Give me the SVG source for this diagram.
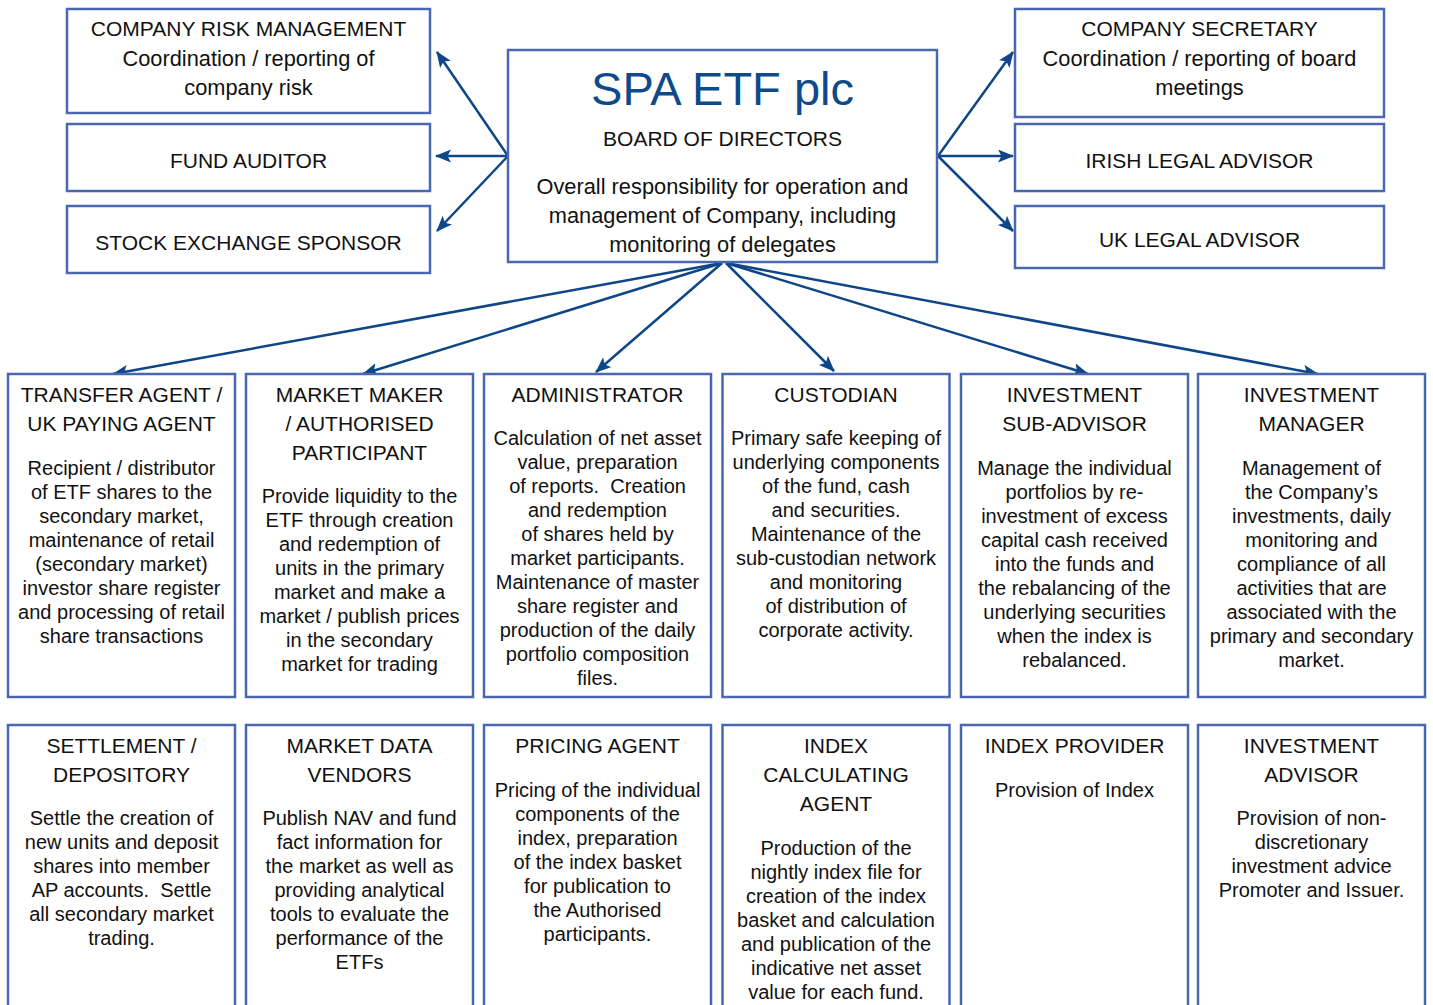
<svg xmlns="http://www.w3.org/2000/svg" width="1433" height="1005" viewBox="0 0 1433 1005">
<defs>
<style>
.box{fill:#fff;stroke:#4a68af;stroke-width:2.5}
text{font-family:"Liberation Sans",Arial,Helvetica,sans-serif;fill:#111;text-anchor:middle}
.h{font-size:21px}
.d{font-size:21.8px}
.b{font-size:20px}
.t{font-size:47px;fill:#0d4a8a}
.pre{white-space:pre}
.c{stroke:#0e4687;stroke-width:2.5;fill:none;marker-end:url(#ah)}
</style>
<marker id="ah" markerUnits="userSpaceOnUse" markerWidth="18" markerHeight="14" refX="15" refY="6.5" orient="auto">
<path d="M0,0 L16,6.5 L0,13 L3.5,6.5 z" fill="#0e4687"/>
</marker>
</defs>
<rect width="1433" height="1005" fill="#fff"/>

<g id="connectors">
<line class="c" x1="508" y1="156" x2="437" y2="52"/>
<line class="c" x1="508" y1="156" x2="436" y2="156"/>
<line class="c" x1="508" y1="156" x2="437" y2="231"/>
<line class="c" x1="938" y1="156" x2="1013" y2="52"/>
<line class="c" x1="938" y1="156" x2="1013" y2="156"/>
<line class="c" x1="938" y1="156" x2="1013" y2="231"/>
<line class="c" x1="722" y1="263" x2="113" y2="374"/>
<line class="c" x1="722" y1="263" x2="363" y2="374"/>
<line class="c" x1="722" y1="263" x2="596" y2="372"/>
<line class="c" x1="726" y1="263" x2="834" y2="371"/>
<line class="c" x1="726" y1="263" x2="1088" y2="374"/>
<line class="c" x1="726" y1="263" x2="1318" y2="374"/>
</g>

<g id="board">
<rect class="box" x="508" y="50" width="429" height="212"/>
<text class="t" x="722.5" y="105">SPA ETF plc</text>
<text class="h" x="722.5" y="146">BOARD OF DIRECTORS</text>
<text class="d" x="722.5" y="194">Overall responsibility for operation and</text>
<text class="d" x="722.5" y="223">management of Company, including</text>
<text class="d" x="722.5" y="252">monitoring of delegates</text>
</g>

<g id="risk">
<rect class="box" x="67" y="9" width="363" height="104"/>
<text class="h" x="248.5" y="36">COMPANY RISK MANAGEMENT</text>
<text class="d" x="248.5" y="66">Coordination / reporting of</text>
<text class="d" x="248.5" y="95">company risk</text>
</g>
<g id="auditor">
<rect class="box" x="67" y="124" width="363" height="67"/>
<text class="h" x="248.5" y="168">FUND AUDITOR</text>
</g>
<g id="sponsor">
<rect class="box" x="67" y="206" width="363" height="67"/>
<text class="h" x="248.5" y="250">STOCK EXCHANGE SPONSOR</text>
</g>

<g id="secretary">
<rect class="box" x="1015" y="9" width="369" height="108"/>
<text class="h" x="1199.5" y="36">COMPANY SECRETARY</text>
<text class="d" x="1199.5" y="66">Coordination / reporting of board</text>
<text class="d" x="1199.5" y="95">meetings</text>
</g>
<g id="irish">
<rect class="box" x="1015" y="124" width="369" height="67"/>
<text class="h" x="1199.5" y="168">IRISH LEGAL ADVISOR</text>
</g>
<g id="uklegal">
<rect class="box" x="1015" y="206" width="369" height="62"/>
<text class="h" x="1199.5" y="247">UK LEGAL ADVISOR</text>
</g>

<g id="transfer">
<rect class="box" x="8" y="374" width="227" height="323"/>
<text class="h" x="121.5" y="402">TRANSFER AGENT /</text>
<text class="h" x="121.5" y="431">UK PAYING AGENT</text>
<text class="b" x="121.5" y="475">Recipient / distributor</text>
<text class="b" x="121.5" y="499">of ETF shares to the</text>
<text class="b" x="121.5" y="523">secondary market,</text>
<text class="b" x="121.5" y="547">maintenance of retail</text>
<text class="b" x="121.5" y="571">(secondary market)</text>
<text class="b" x="121.5" y="595">investor share register</text>
<text class="b" x="121.5" y="619">and processing of retail</text>
<text class="b" x="121.5" y="643">share transactions</text>
</g>

<g id="marketmaker">
<rect class="box" x="246" y="374" width="227" height="323"/>
<text class="h" x="359.5" y="402">MARKET MAKER</text>
<text class="h" x="359.5" y="431">/ AUTHORISED</text>
<text class="h" x="359.5" y="460">PARTICIPANT</text>
<text class="b" x="359.5" y="503">Provide liquidity to the</text>
<text class="b" x="359.5" y="527">ETF through creation</text>
<text class="b" x="359.5" y="551">and redemption of</text>
<text class="b" x="359.5" y="575">units in the primary</text>
<text class="b" x="359.5" y="599">market and make a</text>
<text class="b" x="359.5" y="623">market / publish prices</text>
<text class="b" x="359.5" y="647">in the secondary</text>
<text class="b" x="359.5" y="671">market for trading</text>
</g>

<g id="administrator">
<rect class="box" x="484" y="374" width="227" height="323"/>
<text class="h" x="597.5" y="402">ADMINISTRATOR</text>
<text class="b" x="597.5" y="445">Calculation of net asset</text>
<text class="b" x="597.5" y="469">value, preparation</text>
<text class="b pre" x="597.5" y="493">of reports.  Creation</text>
<text class="b" x="597.5" y="517">and redemption</text>
<text class="b" x="597.5" y="541">of shares held by</text>
<text class="b" x="597.5" y="565">market participants.</text>
<text class="b" x="597.5" y="589">Maintenance of master</text>
<text class="b" x="597.5" y="613">share register and</text>
<text class="b" x="597.5" y="637">production of the daily</text>
<text class="b" x="597.5" y="661">portfolio composition</text>
<text class="b" x="597.5" y="685">files.</text>
</g>

<g id="custodian">
<rect class="box" x="722.5" y="374" width="227" height="323"/>
<text class="h" x="836" y="402">CUSTODIAN</text>
<text class="b" x="836" y="445">Primary safe keeping of</text>
<text class="b" x="836" y="469">underlying components</text>
<text class="b" x="836" y="493">of the fund, cash</text>
<text class="b" x="836" y="517">and securities.</text>
<text class="b" x="836" y="541">Maintenance of the</text>
<text class="b" x="836" y="565">sub-custodian network</text>
<text class="b" x="836" y="589">and monitoring</text>
<text class="b" x="836" y="613">of distribution of</text>
<text class="b" x="836" y="637">corporate activity.</text>
</g>

<g id="subadvisor">
<rect class="box" x="961" y="374" width="227" height="323"/>
<text class="h" x="1074.5" y="402">INVESTMENT</text>
<text class="h" x="1074.5" y="431">SUB-ADVISOR</text>
<text class="b" x="1074.5" y="475">Manage the individual</text>
<text class="b" x="1074.5" y="499">portfolios by re-</text>
<text class="b" x="1074.5" y="523">investment of excess</text>
<text class="b" x="1074.5" y="547">capital cash received</text>
<text class="b" x="1074.5" y="571">into the funds and</text>
<text class="b" x="1074.5" y="595">the rebalancing of the</text>
<text class="b" x="1074.5" y="619">underlying securities</text>
<text class="b" x="1074.5" y="643">when the index is</text>
<text class="b" x="1074.5" y="667">rebalanced.</text>
</g>

<g id="manager">
<rect class="box" x="1198" y="374" width="227" height="323"/>
<text class="h" x="1311.5" y="402">INVESTMENT</text>
<text class="h" x="1311.5" y="431">MANAGER</text>
<text class="b" x="1311.5" y="475">Management of</text>
<text class="b" x="1311.5" y="499">the Company’s</text>
<text class="b" x="1311.5" y="523">investments, daily</text>
<text class="b" x="1311.5" y="547">monitoring and</text>
<text class="b" x="1311.5" y="571">compliance of all</text>
<text class="b" x="1311.5" y="595">activities that are</text>
<text class="b" x="1311.5" y="619">associated with the</text>
<text class="b" x="1311.5" y="643">primary and secondary</text>
<text class="b" x="1311.5" y="667">market.</text>
</g>

<g id="settlement">
<rect class="box" x="8" y="725" width="227" height="300"/>
<text class="h" x="121.5" y="753">SETTLEMENT /</text>
<text class="h" x="121.5" y="782">DEPOSITORY</text>
<text class="b" x="121.5" y="825">Settle the creation of</text>
<text class="b" x="121.5" y="849">new units and deposit</text>
<text class="b" x="121.5" y="873">shares into member</text>
<text class="b pre" x="121.5" y="897">AP accounts.  Settle</text>
<text class="b" x="121.5" y="921">all secondary market</text>
<text class="b" x="121.5" y="945">trading.</text>
</g>

<g id="marketdata">
<rect class="box" x="246" y="725" width="227" height="300"/>
<text class="h" x="359.5" y="753">MARKET DATA</text>
<text class="h" x="359.5" y="782">VENDORS</text>
<text class="b" x="359.5" y="825">Publish NAV and fund</text>
<text class="b" x="359.5" y="849">fact information for</text>
<text class="b" x="359.5" y="873">the market as well as</text>
<text class="b" x="359.5" y="897">providing analytical</text>
<text class="b" x="359.5" y="921">tools to evaluate the</text>
<text class="b" x="359.5" y="945">performance of the</text>
<text class="b" x="359.5" y="969">ETFs</text>
</g>

<g id="pricing">
<rect class="box" x="484" y="725" width="227" height="300"/>
<text class="h" x="597.5" y="753">PRICING AGENT</text>
<text class="b" x="597.5" y="797">Pricing of the individual</text>
<text class="b" x="597.5" y="821">components of the</text>
<text class="b" x="597.5" y="845">index, preparation</text>
<text class="b" x="597.5" y="869">of the index basket</text>
<text class="b" x="597.5" y="893">for publication to</text>
<text class="b" x="597.5" y="917">the Authorised</text>
<text class="b" x="597.5" y="941">participants.</text>
</g>

<g id="indexcalc">
<rect class="box" x="722.5" y="725" width="227" height="300"/>
<text class="h" x="836" y="753">INDEX</text>
<text class="h" x="836" y="782">CALCULATING</text>
<text class="h" x="836" y="811">AGENT</text>
<text class="b" x="836" y="855">Production of the</text>
<text class="b" x="836" y="879">nightly index file for</text>
<text class="b" x="836" y="903">creation of the index</text>
<text class="b" x="836" y="927">basket and calculation</text>
<text class="b" x="836" y="951">and publication of the</text>
<text class="b" x="836" y="975">indicative net asset</text>
<text class="b" x="836" y="999">value for each fund.</text>
</g>

<g id="indexprovider">
<rect class="box" x="961" y="725" width="227" height="300"/>
<text class="h" x="1074.5" y="753">INDEX PROVIDER</text>
<text class="b" x="1074.5" y="797">Provision of Index</text>
</g>

<g id="advisor">
<rect class="box" x="1198" y="725" width="227" height="300"/>
<text class="h" x="1311.5" y="753">INVESTMENT</text>
<text class="h" x="1311.5" y="782">ADVISOR</text>
<text class="b" x="1311.5" y="825">Provision of non-</text>
<text class="b" x="1311.5" y="849">discretionary</text>
<text class="b" x="1311.5" y="873">investment advice</text>
<text class="b" x="1311.5" y="897">Promoter and Issuer.</text>
</g>
</svg>
